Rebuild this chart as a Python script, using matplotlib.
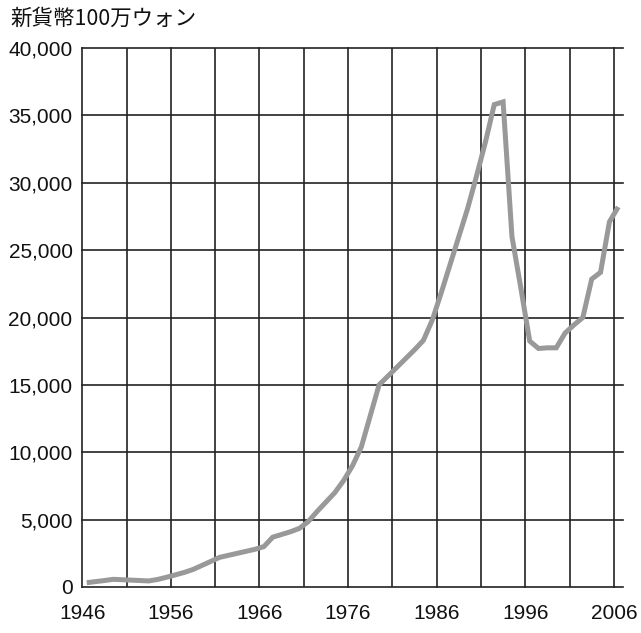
import matplotlib
matplotlib.use("Agg")
import matplotlib.pyplot as plt
import numpy as np

plt.rcParams['font.family'] = ['Liberation Sans', 'Noto Sans CJK JP', 'DejaVu Sans']

title = "新貨幣100万ウォン"
years = list(range(1946, 2007))
values = [
    320, 400, 480, 570, 540, 510, 480, 450, 560, 720,       # 1946-1955
    900, 1080, 1300, 1600, 1900, 2200, 2350, 2500, 2650, 2800,  # 1956-1965
    3000, 3700, 3900, 4100, 4350, 4850, 5600, 6300, 7000, 7900,  # 1966-1975
    9000, 10400, 12700, 15000, 15650, 16300, 16950, 17600, 18300, 19800,  # 1976-1985
    21800, 23900, 26000, 28100, 30500, 33000, 35800, 36000, 26000, 22200,  # 1986-1995
    18250, 17700, 17750, 17750, 18850, 19450, 20000, 22850, 23350, 27100,  # 1996-2005
    28200,  # 2006
]
xticks_major = list(range(1946, 2007, 10))
xgrid = list(range(1946, 2007, 5))
yticks = list(range(0, 40001, 5000))

W, H = 641, 633
fig = plt.figure(figsize=(W / 100, H / 100), dpi=100)
ax = fig.add_axes([82.3 / W, (H - 587) / H, (622.7 - 82.3) / W, (587 - 48) / H])

# values are annual figures, drawn at mid-year
ax.plot(np.array(years) + 0.5, values, color='#999999', lw=3.6,
        solid_capstyle='butt', solid_joinstyle='miter', zorder=3)

ax.set_xlim(1946, 2007)
ax.set_ylim(0, 40000)
ax.set_xticks(xticks_major)
ax.set_xticks(xgrid, minor=True)
ax.set_yticks(yticks)
ax.set_yticklabels([f"{v:,}" for v in yticks])
ax.tick_params(axis='both', which='both', length=0, labelsize=15, colors='#111111')
ax.tick_params(axis='y', pad=7)
ax.tick_params(axis='x', pad=12)
ax.grid(True, axis='x', which='both', color='#222222', lw=1.2)
ax.grid(True, axis='y', which='major', color='#222222', lw=1.2)
for gl in ax.get_xgridlines() + ax.get_ygridlines():
    gl.set_clip_on(False)
for s in ax.spines.values():
    s.set_visible(False)

fig.text(10 / W, 1 - 19 / H, title, fontsize=15.5, va='center', ha='left',
         family=['Noto Sans CJK JP', 'DejaVu Sans'], color='#111111')

fig.savefig("out.png", dpi=100)
